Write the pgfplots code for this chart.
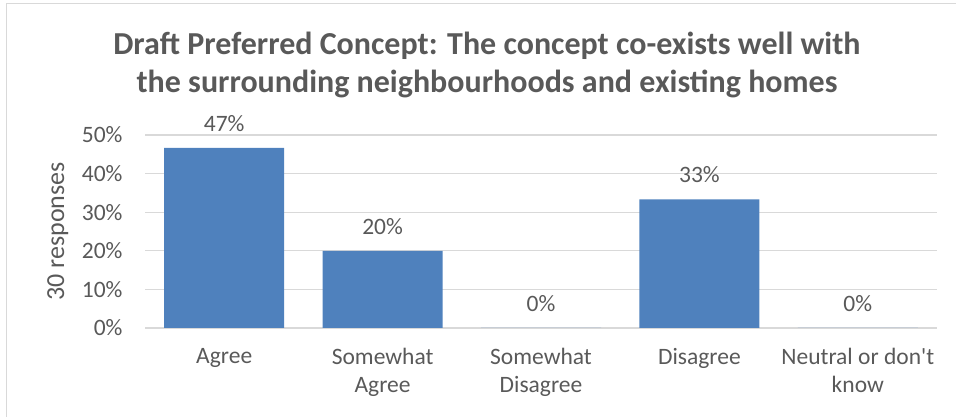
\documentclass[border=0pt]{standalone}
\usepackage{pgfplots}
\pgfplotsset{compat=1.18}
\usepackage{fontspec}
\setmainfont{Carlito}
\definecolor{barblue}{HTML}{4F81BD}
\definecolor{txt}{HTML}{595959}
\definecolor{gridc}{HTML}{D9D9D9}
\begin{document}
\begin{tikzpicture}
\useasboundingbox (0pt,0pt) rectangle (956pt,417pt);
\begin{axis}[
  at={(145pt,89pt)}, anchor=south west,
  scale only axis, width=792pt, height=193pt,
  xmin=-0.5, xmax=4.5, ymin=0, ymax=50,
  axis line style={draw=none},
  ytick={0,10,20,30,40,50},
  yticklabels={0\%,10\%,20\%,30\%,40\%,50\%},
  xtick={0,1,2,3,4},
  xticklabels={Agree,{Somewhat\\Agree},{Somewhat\\Disagree},Disagree,{Neutral or don\textquotesingle t\\know}},
  major tick length=0pt,
  ymajorgrids, grid style={gridc, line width=1.2pt},
  tick label style={text=txt, font=\fontsize{23.5}{28}\selectfont},
  yticklabel style={anchor=east, xshift=-19pt},
  xticklabel style={anchor=north, yshift=-17pt, align=center},
  every axis y label/.style={at={(axis description cs:-0.11,0.5)}, rotate=90, anchor=center},
  ylabel={30 responses},
  ylabel style={text=txt, font=\fontsize{26}{30}\selectfont},
  /pgf/number format/assume math mode=true,
  nodes near coords={\pgfmathprintnumber[fixed,precision=0]{\pgfplotspointmeta}\%},
  every node near coord/.append style={text=txt, font=\fontsize{23.5}{28}\selectfont, yshift=13pt},
  clip=false,
]
\addplot[ybar, bar width=120pt, fill=barblue, draw=none] coordinates {(0,46.67) (1,20) (2,0) (3,33.33) (4,0)};
\end{axis}
\draw[gridc, line width=1.5pt] (6.5pt,0pt) -- (6.5pt,413.5pt) -- (956pt,413.5pt);
\node[text=txt, font=\bfseries\fontsize{32}{38}\selectfont, anchor=base] at (487pt,362pt)
  {Draft Preferred Concept: The concept co-exists well with};
\node[text=txt, font=\bfseries\fontsize{32}{38}\selectfont, anchor=base] at (487pt,324pt)
  {the surrounding neighbourhoods and existing homes};
\end{tikzpicture}
\end{document}
